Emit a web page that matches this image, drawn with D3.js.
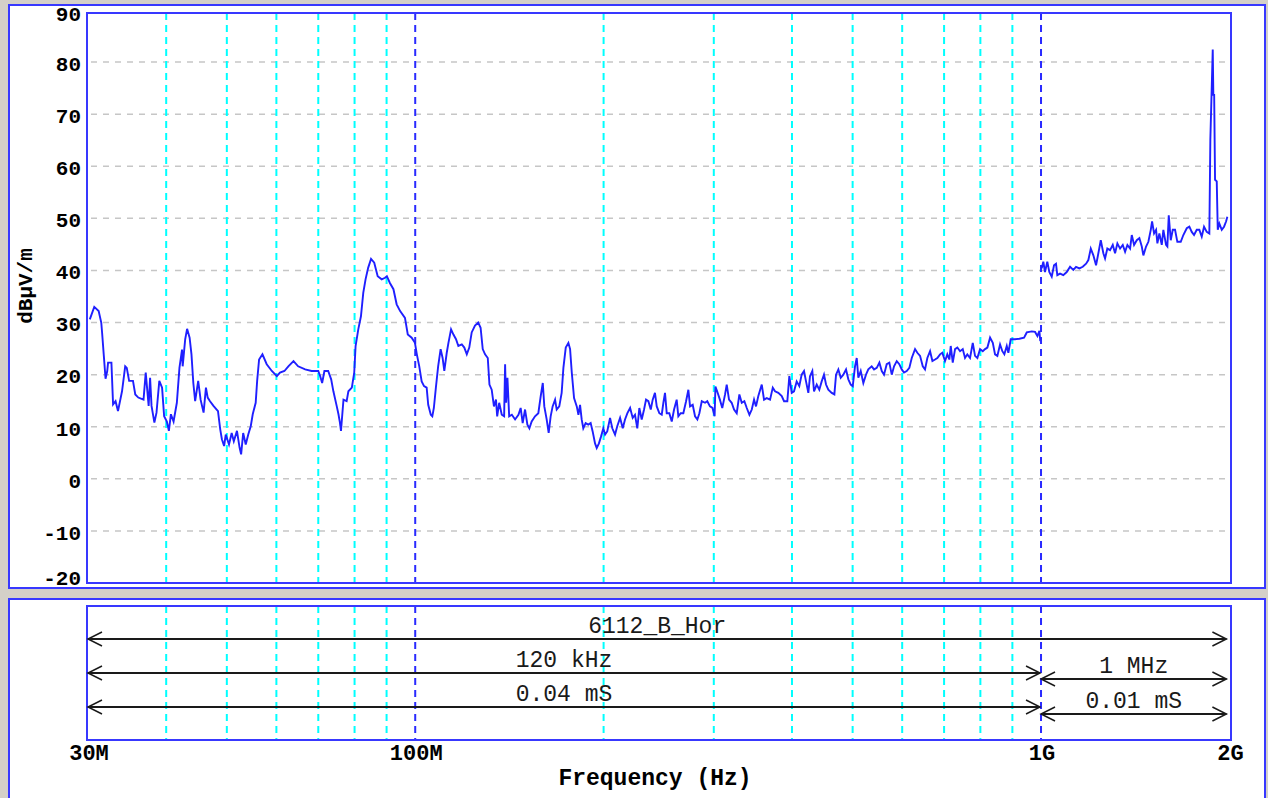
<!DOCTYPE html>
<html>
<head>
<meta charset="utf-8">
<script src="https://cdn.jsdelivr.net/npm/d3@7"></script>
<style>
body { margin: 0; background: #d4d0c8; }
svg { display: block; }
</style>
</head>
<body>
<svg id="chart" width="1268" height="798"></svg>
<script>
// sweep 30 MHz - 1 GHz, [frequency MHz, level dBuV/m]
var sweepLow = [
 [30.2,30.6],[30.7,33.0],[31.2,32.2],[31.5,30.0],[31.6,28.0],[31.8,23.6],[32.0,19.2],[32.2,20.7],[32.3,22.3],[32.7,22.3],
 [32.9,14.3],[33.2,14.9],[33.5,13.0],[34.0,16.8],[34.4,21.6],[34.6,21.3],[34.9,18.8],[35.4,18.8],[35.7,16.2],[36.1,15.6],
 [36.8,15.2],[37.1,20.4],[37.5,14.0],[37.7,19.4],[37.9,14.0],[38.3,10.8],[38.6,12.7],[39.0,18.8],[39.4,17.5],[39.7,12.0],
 [40.1,11.0],[40.4,9.2],[40.7,12.4],[41.1,11.0],[41.6,14.6],[42.0,21.3],[42.4,24.8],[42.5,21.6],[42.9,26.8],[43.2,28.8],
 [43.6,27.1],[43.9,23.9],[44.2,18.4],[44.5,14.9],[45.0,18.8],[45.4,15.2],[45.9,12.7],[46.3,17.5],[46.6,15.6],[47.0,14.9],
 [47.6,14.0],[48.4,13.0],[48.8,9.5],[49.1,7.6],[49.5,6.3],[49.8,8.5],[50.4,6.6],[50.9,8.8],[51.3,7.2],[51.9,9.2],
 [52.4,6.0],[52.7,4.7],[53.1,8.8],[53.6,6.6],[54.1,8.5],[54.6,10.1],[55.0,12.4],[55.6,14.6],[55.9,18.8],[56.3,22.9],
 [57.0,23.9],[57.9,22.0],[59.0,20.7],[60.1,19.7],[60.8,20.4],[61.8,20.7],[62.7,21.6],[63.9,22.6],[65.0,21.6],[66.7,21.0],
 [68.3,20.7],[70.0,20.7],[70.5,19.7],[71.0,18.4],[71.6,20.7],[72.6,20.7],[73.4,19.1],[74.0,16.8],[74.9,14.0],[75.4,12.4],
 [75.8,10.8],[76.1,9.2],[76.8,15.2],[77.7,14.9],[78.2,16.8],[79.2,17.5],[79.9,20.4],[80.3,25.5],[81.1,28.7],[81.9,31.2],
 [82.6,35.7],[83.3,38.3],[84.1,40.5],[85.0,42.2],[86.0,41.5],[87.1,38.9],[88.4,38.3],[89.5,38.6],[90.1,38.9],[91.1,37.6],
 [92.3,36.4],[93.4,33.5],[94.6,32.2],[96.3,30.9],[97.3,27.7],[98.7,27.1],[99.9,26.1],
 [100.6,23.9],[101.5,21.6],[102.4,18.7],[103.3,17.8],[104.3,17.5],[104.9,14.2],[105.9,12.3],[106.5,12.0],[107.1,13.6],[107.9,17.5],
 [108.8,21.6],[109.8,24.9],[110.6,23.2],[111.3,20.7],[112.3,24.2],[113.0,26.1],[114.1,28.7],[115.1,27.7],[116.2,26.8],[117.2,25.5],
 [118.7,25.8],[119.8,25.2],[120.9,23.9],[122.0,25.2],[123.1,28.1],[124.6,29.4],[126.1,30.0],[127.2,29.0],[128.2,24.9],[129.3,23.9],
 [130.6,23.2],[131.4,18.1],[132.5,17.1],[133.6,13.9],[134.6,15.2],[135.2,12.0],[136.2,14.6],[137.5,12.3],[138.7,12.0],[139.2,22.0],
 [139.7,14.6],[140.4,19.4],[141.3,12.0],[142.7,12.3],[144.4,11.4],[146.2,12.3],[147.4,13.6],[148.5,10.7],[149.8,13.3],[151.1,10.4],
 [152.2,9.7],[153.5,11.0],[155.4,12.0],[157.3,12.6],[158.7,15.9],[159.9,18.4],[160.8,13.9],[162.2,11.4],[163.4,8.8],[164.6,12.0],
 [165.8,13.9],[167.3,15.2],[168.3,13.3],[169.9,13.9],[171.4,16.5],[172.5,21.3],[174.0,25.2],[175.7,26.1],[176.8,24.9],[177.9,20.4],
 [179.4,15.5],[181.2,13.9],[182.3,12.3],[183.4,14.2],[184.5,11.4],[185.6,9.7],[187.2,10.7],[189.0,10.4],[190.7,10.7],[192.1,9.1],
 [193.8,6.8],[195.0,5.9],[196.6,6.8],[198.1,8.1],[199.8,9.7],[201.1,8.5],[202.7,9.1],[204.8,11.7],[206.5,9.7],[208.6,8.5],
 [210.3,10.1],[212.5,11.7],[214.6,9.7],[216.4,11.4],[218.3,12.6],[220.5,13.6],[222.6,11.7],[224.5,12.3],[226.4,9.7],[228.1,13.6],
 [230.1,11.4],[232.1,13.3],[233.8,15.2],[235.8,14.9],[237.9,13.3],[239.6,15.2],[241.6,16.5],[243.2,13.9],[245.5,12.6],[247.7,12.3],
 [249.2,14.6],[250.7,16.5],[252.3,12.6],[254.7,12.6],[257.0,11.0],[259.2,13.3],[261.7,15.2],[263.3,12.0],[265.6,12.6],[268.2,12.6],
 [270.9,14.9],[273.2,17.1],[274.9,13.9],[277.6,14.2],[280.0,12.0],[282.4,11.4],[284.5,12.6],[287.0,14.9],
 [290.5,14.6],[292.9,14.9],[295.8,13.9],[298.6,13.6],[300.9,12.0],[301.8,17.7],[303.7,16.8],[306.8,15.2],[309.5,13.6],[312.7,16.2],
 [314.6,18.1],[317.3,15.2],[320.4,14.6],[323.2,13.3],[326.4,12.6],[329.6,16.2],[332.5,14.6],[335.7,14.9],[338.7,13.6],[342.0,12.3],
 [345.0,13.3],[347.9,15.2],[350.4,13.9],[353.4,15.9],[357.9,18.1],[360.9,15.2],[364.5,15.5],[369.0,15.2],[372.7,17.5],[375.8,16.8],
 [380.4,16.5],[385.2,15.9],[388.5,14.9],[393.2,14.9],[396.1,19.7],[399.6,16.5],[403.0,16.8],[407.0,18.7],[410.9,17.8],[414.5,20.0],
 [418.1,20.7],[421.2,18.7],[424.8,16.5],[427.4,19.7],[431.1,20.7],[433.8,16.8],[438.1,18.1],[442.3,17.1],[446.2,18.7],[450.0,20.0],
 [453.4,18.1],[457.2,17.1],[463.0,16.5],[467.5,16.2],[470.4,20.0],[474.4,21.0],[478.6,19.4],[483.2,20.0],[488.0,21.0],[492.2,19.1],
 [496.5,18.1],[500.2,17.8],[504.4,21.6],[507.6,23.2],[510.6,19.4],[515.1,20.7],[520.1,18.4],[525.2,20.0],[529.7,21.0],[536.3,21.6],
 [541.0,21.0],[546.4,21.3],[551.7,22.3],[556.6,20.7],[561.2,20.0],[566.8,22.0],[572.3,22.3],[577.4,20.0],[582.3,21.6],[588.1,22.6],
 [593.7,22.0],[599.0,21.0],[604.0,20.4],[610.1,20.7],[616.0,21.3],[621.5,23.2],[629.1,24.9],[634.4,24.2],[640.8,23.6],[647.2,21.6],
 [652.6,21.0],[658.2,23.2],[664.8,24.5],[670.6,22.6],[677.1,22.9],[682.9,23.2],[689.7,23.9],[695.5,24.2],[702.4,22.6],[708.4,23.9],
 [713.7,22.9],[717.4,25.5],[722.7,22.3],[728.9,24.9],[735.1,25.2],[742.4,24.5],[749.8,24.9],[756.1,23.2],[762.5,23.9],[770.2,23.2],
 [777.9,26.1],[784.5,23.6],[791.2,23.2],[799.1,24.9],[807.1,24.5],[814.0,24.9],[820.9,25.2],[829.1,27.1],[837.4,26.1],[844.4,23.9],
 [851.6,23.6],[860.1,25.8],[867.4,24.5],[873.8,23.9],[881.6,25.5],[886.8,24.2],[894.6,26.8],[908.8,26.8],[923.4,26.9],[939.5,27.1],
 [948.9,28.1],[966.6,28.3],[978.4,28.2],[986.8,27.4],[994.1,28.4],[996.7,26.8],[1000,27.0]
];

// sweep 1 GHz - 2 GHz
var sweepHigh = [
 [1002.6,40.4],[1008.5,41.7],[1014.8,39.7],[1023.4,41.7],[1031.0,39.7],[1040.2,38.8],[1049.0,41.0],[1056.7,41.3],[1061.8,39.1],[1072.4,39.4],
 [1085.5,39.1],[1099.2,39.7],[1112.8,40.7],[1126.3,40.1],[1137.6,40.7],[1151.5,40.4],[1166.0,40.7],[1180.3,41.3],[1190.3,42.0],[1200.9,44.2],
 [1212.4,42.9],[1224.5,41.0],[1234.9,43.3],[1245.9,45.8],[1257.8,43.3],[1265.7,42.3],[1276.4,44.2],[1289.2,43.9],[1302.1,44.9],[1313.2,43.3],
 [1324.4,45.2],[1337.6,44.2],[1351.0,44.9],[1362.5,43.6],[1374.1,44.9],[1387.8,44.2],[1396.5,46.8],[1408.4,44.9],[1422.4,45.8],[1436.1,46.2],
 [1448.8,44.6],[1457.3,42.9],[1471.9,44.6],[1484.4,45.5],[1497.6,47.8],[1504.8,49.4],[1515.9,47.1],[1527.1,47.8],[1534.4,45.2],[1545.7,47.1],
 [1559.4,44.9],[1568.6,47.8],[1584.2,44.9],[1591.8,44.6],[1600.0,50.6],[1611.8,45.8],[1623.7,47.8],[1637.5,47.8],[1651.4,45.5],[1672.2,45.5],
 [1688.3,46.8],[1709.6,48.1],[1726.0,48.4],[1741.3,47.4],[1756.1,46.8],[1773.6,47.8],[1790.6,47.8],[1806.5,46.5],[1821.8,48.4],[1840.0,47.4],
 [1857.7,47.1],[1864.6,65.1],[1881.1,82.4],[1885.3,73.7],[1891.0,73.7],[1897.1,57.4],[1909.0,57.1],[1916.1,47.8],[1927.4,49.0],[1944.5,47.8],
 [1961.0,48.4],[1975.5,49.4],[1985.0,50.3]
];

var yTicks = [90, 80, 70, 60, 50, 40, 30, 20, 10, 0, -10, -20];
var yGrid = [80, 70, 60, 50, 40, 30, 20, 10, 0, -10];
var xTickFreqs = [30, 100, 1000, 2000];
var xTickLabels = ["30M", "100M", "1G", "2G"];
var minorFreqs = [40, 50, 60, 70, 80, 90, 200, 300, 400, 500, 600, 700, 800, 900];
var decadeFreqs = [100, 1000];

// measurement settings shown in the lower panel
var bandNames = ["6112_B_Hor", "120 kHz", "0.04 mS", "1 MHz", "0.01 mS"];
var bandFrom = [30, 30, 30, 1000, 1000];
var bandTo = [2000, 1000, 1000, 2000, 2000];
var bandRow = [0, 1, 2, 1, 2];

var svg = d3.select("#chart");
var blue = "#3838ff";
var mono = "'Liberation Mono', 'Courier New', monospace";

var plot = {left: 87, right: 1231, top: 13, bottom: 583};
var lower = {top: 606, bottom: 740};

var x = d3.scaleLog().domain([30, 2000]).range([88, 1229.4]);
var y = d3.scaleLinear().domain([-20, 90]).range([583, 10]);

// panels
svg.append("rect").attr("x", 0).attr("y", 0).attr("width", 1268).attr("height", 798).attr("fill", "#d4d0c8");
svg.append("rect").attr("x", 9).attr("y", 5).attr("width", 1256).attr("height", 583)
    .attr("fill", "#fff").attr("stroke", blue).attr("stroke-width", 2);
svg.append("rect").attr("x", 9).attr("y", 599).attr("width", 1256).attr("height", 210)
    .attr("fill", "#fff").attr("stroke", blue).attr("stroke-width", 2);

// horizontal grid
svg.append("g").selectAll("line")
    .data(yGrid)
    .enter().append("line")
    .attr("x1", plot.left + 4).attr("x2", plot.right - 3)
    .attr("y1", function(d) { return y(d); })
    .attr("y2", function(d) { return y(d); })
    .attr("stroke", "#c6c6c6").attr("stroke-width", 1.5)
    .attr("stroke-dasharray", "6,6");

// vertical grid in both panels
[[plot.top, plot.bottom], [lower.top, lower.bottom]].forEach(function(span) {
    svg.append("g").selectAll("line")
	.data(minorFreqs)
	.enter().append("line")
	.attr("x1", function(d) { return x(d); })
	.attr("x2", function(d) { return x(d); })
	.attr("y1", span[0]).attr("y2", span[1])
	.attr("stroke", "#00ffff").attr("stroke-width", 2)
	.attr("stroke-dasharray", "7,5");
    svg.append("g").selectAll("line")
	.data(decadeFreqs)
	.enter().append("line")
	.attr("x1", function(d) { return x(d); })
	.attr("x2", function(d) { return x(d); })
	.attr("y1", span[0]).attr("y2", span[1])
	.attr("stroke", "#2a2aff").attr("stroke-width", 2)
	.attr("stroke-dasharray", "7,5");
});

// frames
svg.append("rect").attr("x", plot.left).attr("y", plot.top)
    .attr("width", plot.right - plot.left).attr("height", plot.bottom - plot.top)
    .attr("fill", "none").attr("stroke", blue).attr("stroke-width", 2);
svg.append("rect").attr("x", plot.left).attr("y", lower.top)
    .attr("width", plot.right - plot.left).attr("height", lower.bottom - lower.top)
    .attr("fill", "none").attr("stroke", blue).attr("stroke-width", 2);

// traces
var line = d3.line()
    .x(function(d) { return x(d[0]); })
    .y(function(d) { return y(d[1]); });

[sweepLow, sweepHigh].forEach(function(s) {
    svg.append("path")
	.datum(s)
	.attr("d", line)
	.attr("fill", "none")
	.attr("stroke", "#1f1fff")
	.attr("stroke-width", 1.9)
	.attr("stroke-linejoin", "miter");
});

// y axis labels (end labels are kept inside the frame like the analyser does)
svg.append("g").selectAll("text")
    .data(yTicks)
    .enter().append("text")
    .attr("x", 81)
    .attr("y", function(d) { return Math.min(Math.max(y(d) + 1.5, plot.top + 1), plot.bottom - 5); })
    .attr("dy", "0.35em")
    .attr("text-anchor", "end")
    .style("font-family", mono).style("font-weight", "bold").style("font-size", "21px")
    .text(function(d) { return d; });

svg.append("text")
    .attr("transform", "translate(32,286) rotate(-90)")
    .attr("text-anchor", "middle")
    .style("font-family", mono).style("font-weight", "bold").style("font-size", "21px")
    .text("dBµV/m");

// frequency labels
svg.append("g").selectAll("text")
    .data(xTickFreqs)
    .enter().append("text")
    .attr("x", function(d) { return x(d) + 1; })
    .attr("y", 760)
    .attr("text-anchor", "middle")
    .style("font-family", mono).style("font-weight", "bold").style("font-size", "22px")
    .text(function(d, i) { return xTickLabels[i]; });

svg.append("text")
    .attr("x", 655).attr("y", 785)
    .attr("text-anchor", "middle")
    .style("font-family", mono).style("font-weight", "bold").style("font-size", "23px")
    .text("Frequency (Hz)");

// band arrows
var rowY = function(i) {
    return 639 + bandRow[i] * 34 + (bandFrom[i] >= 1000 ? 5 + bandRow[i] : 0);
};

var arrows = svg.append("g").attr("stroke", "#1a1a1a").attr("fill", "none");
bandNames.forEach(function(name, i) {
    var x0 = x(bandFrom[i]);
    var x1 = bandTo[i] >= 2000 ? x(bandTo[i]) - 3 : x(bandTo[i]) - 1;
    var yy = rowY(i);
    arrows.append("line")
	.attr("x1", x0).attr("x2", x1).attr("y1", yy).attr("y2", yy)
	.attr("stroke-width", 2);
    arrows.append("path")
	.attr("d", "M" + (x0 + 14) + "," + (yy - 7) + "L" + x0 + "," + yy + "L" + (x0 + 14) + "," + (yy + 7))
	.attr("stroke-width", 1.5);
    arrows.append("path")
	.attr("d", "M" + (x1 - 14) + "," + (yy - 7) + "L" + x1 + "," + yy + "L" + (x1 - 14) + "," + (yy + 7))
	.attr("stroke-width", 1.5);
    svg.append("text")
	.attr("x", (x0 + x1) / 2)
	.attr("y", yy - 6)
	.attr("text-anchor", "middle")
	.attr("fill", "#1a1a1a")
	.style("font-family", mono).style("font-size", "23px")
	.text(name);
});
</script>
</body>
</html>
